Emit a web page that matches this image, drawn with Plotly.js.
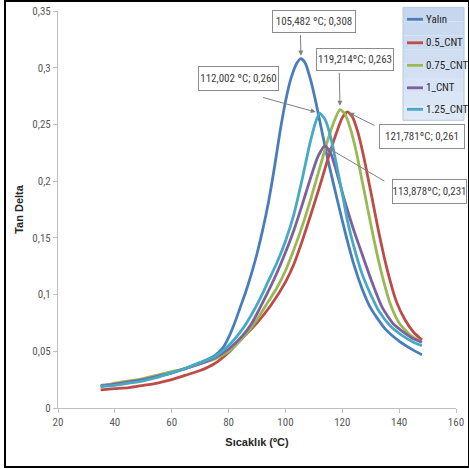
<!DOCTYPE html>
<html>
<head>
<meta charset="utf-8">
<script src="https://cdn.plot.ly/plotly-3.0.1.min.js"></script>
<style>
  html, body { margin: 0; padding: 0; background: #fff; }
  #wrap { position: relative; width: 469px; height: 469px; }
  #chart { position: absolute; left: 0; top: 0; width: 469px; height: 469px; }
  #frame { position: absolute; left: 4px; top: 0px; width: 462px; height: 464px; border: 2px solid #000; pointer-events: none; }
</style>
</head>
<body>
<div id="wrap"><div id="chart"></div><div id="frame"></div></div>
<script>
// ---------- data ----------
const seriesNames = ["Yalın", "0.5_CNT", "0.75_CNT", "1_CNT", "1.25_CNT"];
const seriesColors = ["#4a7ebb", "#be4b48", "#98b954", "#7d60a0", "#46aac5"];

const yalinT = [35, 40, 45, 50, 55, 60, 65, 70, 75, 78, 80, 82, 84, 86, 88, 90, 92, 94, 96, 98, 100, 102, 104, 105.5, 107, 109, 110.5, 112.5, 115, 118, 121, 124, 127, 130, 135, 140, 145, 148];
const yalinV = [0.020, 0.021, 0.023, 0.025, 0.028, 0.031, 0.035, 0.040, 0.046, 0.053, 0.062, 0.074, 0.088, 0.102, 0.118, 0.136, 0.157, 0.181, 0.210, 0.242, 0.270, 0.291, 0.304, 0.308, 0.304, 0.288, 0.272, 0.248, 0.218, 0.186, 0.155, 0.127, 0.105, 0.088, 0.070, 0.059, 0.051, 0.047];

const cnt05T = [35, 40, 45, 50, 55, 60, 65, 70, 75, 80, 85, 90, 95, 100, 103, 106, 109, 112, 115, 118, 120, 121.8, 123.5, 125.5, 127.5, 130, 133, 136, 139, 142, 145, 148];
const cnt05V = [0.016, 0.017, 0.018, 0.020, 0.022, 0.025, 0.029, 0.033, 0.039, 0.049, 0.062, 0.075, 0.091, 0.111, 0.127, 0.148, 0.171, 0.195, 0.220, 0.243, 0.256, 0.261, 0.257, 0.243, 0.222, 0.191, 0.153, 0.120, 0.094, 0.078, 0.067, 0.060];

const cnt075T = [35, 40, 45, 50, 55, 60, 65, 70, 75, 80, 85, 90, 94, 97, 100, 103, 106, 109, 112, 114.5, 117, 119.2, 121, 123, 125, 127, 129, 131, 134, 137, 140, 144, 148];
const cnt075V = [0.019, 0.022, 0.024, 0.026, 0.029, 0.032, 0.035, 0.039, 0.043, 0.050, 0.062, 0.078, 0.094, 0.106, 0.121, 0.140, 0.161, 0.185, 0.211, 0.233, 0.252, 0.263, 0.259, 0.245, 0.225, 0.200, 0.175, 0.150, 0.117, 0.091, 0.075, 0.064, 0.058];

const cnt1T = [35, 40, 45, 50, 55, 60, 65, 70, 75, 80, 85, 88, 91, 94, 97, 100, 103, 106, 109, 111.5, 113.9, 116, 118, 120, 122, 124, 126.5, 130, 134, 138, 142, 145, 148];
const cnt1V = [0.019, 0.021, 0.023, 0.025, 0.028, 0.031, 0.035, 0.039, 0.044, 0.052, 0.064, 0.074, 0.088, 0.103, 0.119, 0.137, 0.157, 0.180, 0.204, 0.222, 0.231, 0.224, 0.208, 0.190, 0.173, 0.157, 0.139, 0.114, 0.089, 0.074, 0.066, 0.061, 0.058];

const cnt125T = [35, 40, 45, 50, 55, 60, 65, 70, 75, 80, 85, 88, 91, 94, 97, 100, 103, 106, 108.5, 110.5, 112, 114, 116, 118, 120, 122, 124, 127, 130, 133, 137, 141, 145, 148];
const cnt125V = [0.019, 0.020, 0.022, 0.024, 0.027, 0.031, 0.035, 0.040, 0.045, 0.055, 0.070, 0.082, 0.096, 0.112, 0.128, 0.147, 0.171, 0.203, 0.232, 0.251, 0.260, 0.254, 0.238, 0.214, 0.189, 0.163, 0.143, 0.118, 0.100, 0.085, 0.072, 0.064, 0.058, 0.055];

const peakT = [105.482, 121.781, 119.214, 113.878, 112.002];
const peakV = [0.308, 0.261, 0.263, 0.231, 0.260];
const peakLabels = ["105,482 ºC; 0,308", "121,781ºC; 0,261", "119,214ºC; 0,263", "113,878ºC; 0,231", "112,002 ºC; 0,260"];

const xTickVals = [20, 40, 60, 80, 100, 120, 140, 160];
const xTickText = ["20", "40", "60", "80", "100", "120", "140", "160"];
const yTickVals = [0, 0.05, 0.1, 0.15, 0.2, 0.25, 0.3, 0.35];
const yTickText = ["0", "0,05", "0,1", "0,15", "0,2", "0,25", "0,3", "0,35"];

// ---------- layout constants ----------
const W = 469, H = 469;
const L = 58, R = 456, T = 10.7, B = 407.7;
const px = x => (x - L) / (R - L);
const py = y => (B - y) / (B - T);
const FONT = "'Liberation Sans Narrow', 'Arial Narrow', 'Roboto Condensed', 'Liberation Sans', sans-serif";

const xs = [yalinT, cnt05T, cnt075T, cnt1T, cnt125T];
const ys = [yalinV, cnt05V, cnt075V, cnt1V, cnt125V];

const traces = seriesNames.map((n, i) => ({
  type: "scatter", mode: "lines", name: n,
  x: xs[i], y: ys[i],
  line: { color: seriesColors[i], width: 2.8, shape: "spline", smoothing: 0.6 },
  showlegend: false, hoverinfo: "skip"
}));

// label boxes (pixel geometry): cx, cy, w, h ; arrow tail offsets relative to peak
const boxes = [
  { cx: 314, cy: 21.5, w: 84, h: 23, ax: -0.6, ay: -25, so: 3 },   // Yalın
  { cx: 422, cy: 136.5, w: 86, h: 25, ax: 28.6, ay: 14.3, so: 2 },  // 0.5
  { cx: 355, cy: 59.5, w: 78, h: 23, ax: -0.8, ay: -38.5, so: 4 },  // 0.75
  { cx: 429.5, cy: 191.5, w: 75, h: 25, ax: 61, ay: 36, so: 4 },    // 1
  { cx: 238.5, cy: 78.5, w: 81, h: 25, ax: -58, ay: -16, so: 4 }    // 1.25
];

const annotations = [];
const shapes = [];
boxes.forEach((b, i) => {
  annotations.push({
    xref: "x", yref: "y", x: peakT[i], y: peakV[i],
    text: "", showarrow: true, ax: b.ax, ay: b.ay, axref: "pixel", ayref: "pixel",
    arrowhead: 2, arrowsize: 1, arrowwidth: 1, arrowcolor: "#7f7f7f", standoff: b.so
  });
  annotations.push({
    xref: "paper", yref: "paper", x: px(b.cx), y: py(b.cy), xanchor: "center", yanchor: "middle",
    text: peakLabels[i], showarrow: false,
    font: { family: FONT, size: 11, color: "#404040" },
    bgcolor: "#ffffff", bordercolor: "#8c8c8c", borderwidth: 1, borderpad: 0,
    width: b.w - 2, height: b.h - 2, align: "center"
  });
});

// custom legend
const legX0 = 403, legX1 = 464, legY0 = 7, legY1 = 120;
const strips = 8;
for (let k = 0; k < strips; k++) {
  const t = k / (strips - 1);
  const c0 = [197, 214, 238], c1 = [222, 232, 246];
  const c = c0.map((v, j) => Math.round(v + (c1[j] - v) * t));
  const ya = legY0 + (legY1 - legY0) * k / strips, yb = legY0 + (legY1 - legY0) * (k + 1) / strips;
  shapes.push({ type: "rect", xref: "paper", yref: "paper", x0: px(legX0), x1: px(legX1), y0: py(yb), y1: py(ya),
    fillcolor: `rgb(${c[0]},${c[1]},${c[2]})`, line: { width: 0 }, layer: "below" });
}
shapes.push({ type: "rect", xref: "paper", yref: "paper", x0: px(legX0), x1: px(legX1), y0: py(legY1), y1: py(legY0),
  fillcolor: "rgba(0,0,0,0)", line: { width: 1, color: "#b8c8e0" } });
const legRows = [19, 42.5, 65, 87.5, 109];
seriesNames.forEach((n, i) => {
  shapes.push({ type: "line", xref: "paper", yref: "paper", x0: px(407), x1: px(423), y0: py(legRows[i]), y1: py(legRows[i]),
    line: { color: seriesColors[i], width: 2.8 } });
  annotations.push({ xref: "paper", yref: "paper", x: px(423.5), y: py(legRows[i]), xanchor: "left", yanchor: "middle",
    text: n, showarrow: false, font: { family: FONT, size: 11, color: "#262626" } });
});

const layout = {
  width: W, height: H,
  margin: { l: L, r: W - R, t: T, b: H - B, pad: 0 },
  paper_bgcolor: "#ffffff", plot_bgcolor: "#ffffff",
  separators: ",.",
  showlegend: false,
  xaxis: {
    range: [20, 160], tickvals: xTickVals, ticktext: xTickText,
    showgrid: false, zeroline: false, showline: true, linecolor: "#bfbfbf", linewidth: 1,
    ticks: "outside", ticklen: 4, tickcolor: "#bfbfbf", tickwidth: 1,
    tickfont: { family: FONT, size: 11, color: "#595959" },
    title: { text: "Sıcaklık (ºC)", font: { family: "'Liberation Sans', Arial, sans-serif", size: 11, color: "#262626", weight: "bold" }, standoff: 10 }
  },
  yaxis: {
    range: [0, 0.35], tickvals: yTickVals, ticktext: yTickText,
    showgrid: false, zeroline: false, showline: true, linecolor: "#bfbfbf", linewidth: 1,
    ticks: "outside", ticklen: 4, tickcolor: "#bfbfbf", tickwidth: 1,
    tickfont: { family: FONT, size: 11, color: "#595959" },
    title: { text: "Tan Delta", font: { family: "'Liberation Sans', Arial, sans-serif", size: 11, color: "#262626", weight: "bold" }, standoff: 6 }
  },
  annotations: annotations,
  shapes: shapes
};

Plotly.newPlot("chart", traces, layout, { staticPlot: true, displayModeBar: false });
</script>
</body>
</html>
